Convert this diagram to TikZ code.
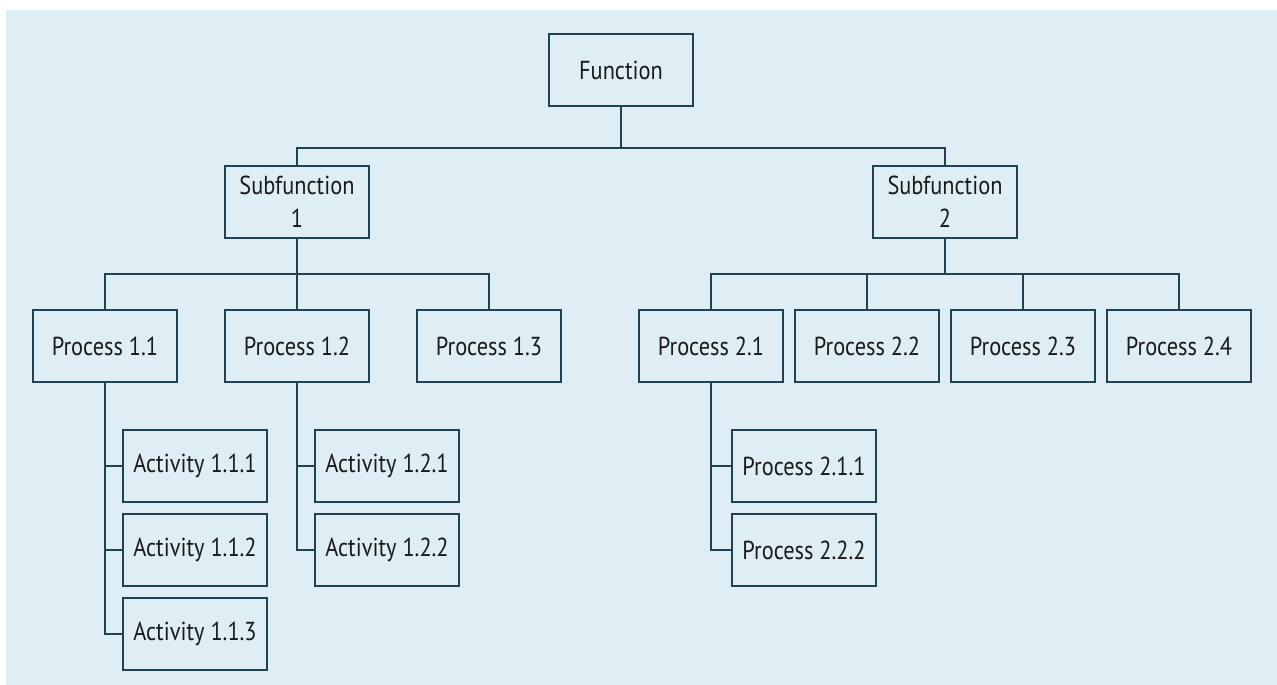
\documentclass[tikz,border=0pt]{standalone}
\usepackage{fontspec}
\setmainfont[FakeStretch=0.86]{PT Sans}
\definecolor{bgblue}{HTML}{DFEEF4}
\definecolor{linec}{HTML}{1F4350}
\definecolor{textc}{HTML}{1A1A1A}
\begin{document}
\begin{tikzpicture}[x=1pt,y=-1pt,
  box/.style={draw=linec, line width=2pt, minimum width=144pt, minimum height=72pt,
    inner sep=0pt, align=center, text=textc,
    font=\fontsize{26}{33}\selectfont},
  conn/.style={draw=linec, line width=2pt}]
\useasboundingbox (0,0) rectangle (1277,685);
\fill[white] (0,0) rectangle (1277,685);
\fill[bgblue] (6,10) rectangle (1277,685);
% nodes
\node[box] (F) at (621,70) {Function};
\node[box] (S1) at (297,201.5) {Subfunction\\1};
\node[box] (S2) at (945,201.5) {Subfunction\\2};
\node[box] (P11) at (105,346) {Process 1.1};
\node[box] (P12) at (297,346) {Process 1.2};
\node[box] (P13) at (489,346) {Process 1.3};
\node[box] (P21) at (711,346) {Process 2.1};
\node[box] (P22) at (867,346) {Process 2.2};
\node[box] (P23) at (1023,346) {Process 2.3};
\node[box] (P24) at (1179,346) {Process 2.4};
\node[box] (A111) at (195,466) {Activity 1.1.1};
\node[box] (A112) at (195,550) {Activity 1.1.2};
\node[box] (A113) at (195,634) {Activity 1.1.3};
\node[box] (A121) at (387,466) {Activity 1.2.1};
\node[box] (A122) at (387,550) {Activity 1.2.2};
\node[box] (Q211) at (804,466) {Process 2.1.1};
\node[box] (Q222) at (804,550) {Process 2.2.2};
% connectors
\foreach \c in {S1,S2} \draw[conn] (F.south) -- ++(0,41) -| (\c.north);
\foreach \c in {P11,P12,P13} \draw[conn] (S1.south) -- ++(0,35) -| (\c.north);
\foreach \c in {P21,P22,P23,P24} \draw[conn] (S2.south) -- ++(0,35) -| (\c.north);
\foreach \c in {A111,A112,A113} \draw[conn] (P11.south) |- (\c.west);
\foreach \c in {A121,A122} \draw[conn] (P12.south) |- (\c.west);
\foreach \c in {Q211,Q222} \draw[conn] (P21.south) |- (\c.west);
\end{tikzpicture}
\end{document}
